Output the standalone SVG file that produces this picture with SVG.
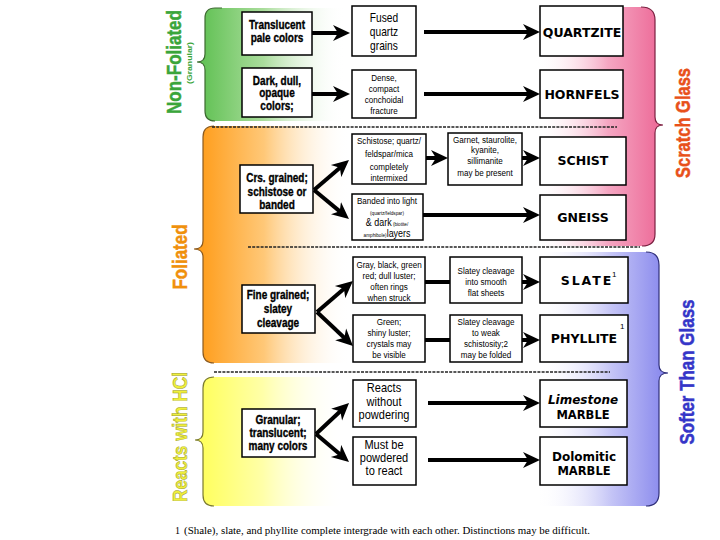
<svg xmlns="http://www.w3.org/2000/svg" width="720" height="540" viewBox="0 0 720 540">
<style>
.box{fill:#fff;stroke:#000;stroke-width:1.5}
.c1{font-family:"Liberation Sans",Arial,sans-serif;font-weight:bold;font-size:12.5px;text-anchor:middle;fill:#000;stroke:#000;stroke-width:0.35}
.c2{font-family:"Liberation Sans",Arial,sans-serif;font-size:9.5px;text-anchor:middle;fill:#000}
.big{font-size:12px}
.res{font-family:"DejaVu Sans",sans-serif;font-weight:bold;font-size:12.5px;text-anchor:middle;fill:#000}
.conn{stroke:#000;stroke-width:4;fill:none}
.arr{marker-end:url(#ah)}
.dot{stroke:#222;stroke-width:1.4;stroke-dasharray:3 1.2;fill:none}
.vl{font-family:"Liberation Sans",Arial,sans-serif;font-weight:bold;text-anchor:middle;font-size:21px;stroke-width:0.5}
.vs{font-family:"Liberation Sans",Arial,sans-serif;font-weight:bold;text-anchor:middle;font-size:8px;fill:#3aa53a}
.brace{fill:none;stroke-width:1.2}
.sup{font-family:"Liberation Sans",sans-serif;font-size:8px;fill:#000}
</style>
<defs>
<marker id="ah" markerUnits="userSpaceOnUse" markerWidth="18" markerHeight="18" viewBox="0 0 18 18" refX="9" refY="9" orient="auto">
<path d="M0,1 L17,9 L0,17 L5,9 Z" fill="#000"/>
</marker>
<linearGradient id="gGreen" x1="0" y1="0" x2="1" y2="0">
<stop offset="0" stop-color="#5cbf4f"/><stop offset="0.45" stop-color="#aadd9c"/><stop offset="1" stop-color="#ffffff" stop-opacity="0"/>
</linearGradient>
<linearGradient id="gOrange" x1="0" y1="0" x2="1" y2="0">
<stop offset="0" stop-color="#ff9912"/><stop offset="0.45" stop-color="#ffc878"/><stop offset="1" stop-color="#ffffff" stop-opacity="0"/>
</linearGradient>
<linearGradient id="gYellow" x1="0" y1="0" x2="1" y2="0">
<stop offset="0" stop-color="#ffff55"/><stop offset="0.45" stop-color="#ffffa8"/><stop offset="1" stop-color="#ffffff" stop-opacity="0"/>
</linearGradient>
<linearGradient id="gPink" x1="0" y1="0" x2="1" y2="0">
<stop offset="0" stop-color="#ffffff" stop-opacity="0"/><stop offset="0.3" stop-color="#ffffff" stop-opacity="0"/><stop offset="0.7" stop-color="#f5a6c2"/><stop offset="1" stop-color="#ec6695"/>
</linearGradient>
<linearGradient id="gBlue" x1="0" y1="0" x2="1" y2="0">
<stop offset="0" stop-color="#ffffff" stop-opacity="0"/><stop offset="0.3" stop-color="#ffffff" stop-opacity="0"/><stop offset="0.7" stop-color="#c4c4f6"/><stop offset="1" stop-color="#8484ec"/>
</linearGradient>
</defs>
<rect width="720" height="540" fill="#fff"/>

<g id="regions">
<path d="M480,7 L641,7 Q655,7 655,20 L655,117 Q655,125 663,125 Q655,125 655,133 L655,234 Q655,246 642,246 L480,246 Z" fill="url(#gPink)"/>
<path class="brace" stroke="#7a2040" d="M641,7 Q655,7 655,20 L655,117 Q655,125 663,125 Q655,125 655,133 L655,234 Q655,246 642,246"/>
<path d="M480,252 L646,252 Q659,252 659,265 L659,365 Q659,373 668,373 Q659,373 659,381 L659,493 Q659,506 646,506 L480,506 Z" fill="url(#gBlue)"/>
<path class="brace" stroke="#30307a" d="M646,252 Q659,252 659,265 L659,365 Q659,373 668,373 Q659,373 659,381 L659,493 Q659,506 646,506"/>
<path d="M197,62 Q205,62 205,54 L205,18 Q205,8 215,8 L345,8 L345,121 L215,121 Q205,121 205,111 L205,70 Q205,62 197,62 Z" fill="url(#gGreen)"/>
<path class="brace" stroke="#3c6a30" d="M222,8 L215,8 Q205,8 205,18 L205,54 Q205,62 197,62 Q205,62 205,70 L205,111 Q205,121 215,121"/>
<path d="M194,249 Q203,249 203,241 L203,137 Q203,126 214,126 L350,126 L350,363 L214,363 Q203,363 203,352 L203,257 Q203,249 194,249 Z" fill="url(#gOrange)"/>
<path class="brace" stroke="#8a5a20" d="M214,126 Q203,126 203,137 L203,241 Q203,249 194,249 Q203,249 203,257 L203,352 Q203,363 214,363"/>
<path d="M195,440 Q203,440 203,432 L203,388 Q203,377 214,377 L345,377 L345,506 L214,506 Q203,506 203,495 L203,448 Q203,440 195,440 Z" fill="url(#gYellow)"/>
<path class="brace" stroke="#7a7a30" d="M214,377 Q203,377 203,388 L203,432 Q203,440 195,440 Q203,440 203,448 L203,495 Q203,506 214,506"/>
<line class="dot" x1="212" y1="127" x2="617" y2="127"/>
<line class="dot" x1="248" y1="247" x2="640" y2="247"/>
<line class="dot" x1="214" y1="372" x2="610" y2="372"/>
</g>

<g id="side-labels">
<text class="vl" fill="#3aa53a" stroke="#3aa53a" transform="translate(181,62) rotate(-90) scale(0.81,1)">Non-Foliated</text>
<text class="vs" transform="translate(192,63) rotate(-90)" textLength="42" lengthAdjust="spacingAndGlyphs">(Granular)</text>
<text class="vl" fill="#f0900c" stroke="#f0900c" transform="translate(187,257) rotate(-90)" textLength="65" lengthAdjust="spacingAndGlyphs">Foliated</text>
<text class="vl" fill="#f0f03a" stroke="#9a9a30" transform="translate(187,437) rotate(-90)" textLength="130" lengthAdjust="spacingAndGlyphs">Reacts with HCl</text>
<text class="vl" fill="#e8501a" stroke="#e8501a" transform="translate(690,123) rotate(-90)" textLength="110" lengthAdjust="spacingAndGlyphs">Scratch Glass</text>
<text class="vl" fill="#3535c8" stroke="#3535c8" transform="translate(694,372) rotate(-90)" textLength="145" lengthAdjust="spacingAndGlyphs">Softer Than Glass</text>
</g>

<g id="connectors">
<line class="conn arr" x1="312" y1="33" x2="342" y2="33"/>
<line class="conn arr" x1="312" y1="94" x2="342" y2="94"/>
<line class="conn arr" x1="424" y1="32" x2="532" y2="32"/>
<line class="conn arr" x1="424" y1="94" x2="532" y2="94"/>
<line class="conn arr" x1="314" y1="190" x2="342.9" y2="165.2"/>
<line class="conn arr" x1="314" y1="190" x2="342.8" y2="213.9"/>
<line class="conn arr" x1="426" y1="158" x2="440" y2="158"/>
<line class="conn arr" x1="522" y1="158" x2="532" y2="158"/>
<line class="conn arr" x1="423" y1="215" x2="532" y2="215"/>
<line class="conn arr" x1="317" y1="312" x2="346.9" y2="286.2"/>
<line class="conn arr" x1="317" y1="312" x2="347.2" y2="340.5"/>
<line class="conn" x1="425" y1="282" x2="450" y2="282"/>
<line class="conn arr" x1="522" y1="282" x2="532" y2="282"/>
<line class="conn" x1="425" y1="340" x2="450" y2="340"/>
<line class="conn arr" x1="522" y1="340" x2="532" y2="340"/>
<line class="conn arr" x1="316" y1="434" x2="343.2" y2="408.5"/>
<line class="conn arr" x1="316" y1="434" x2="342.9" y2="456.8"/>
<line class="conn arr" x1="428" y1="403" x2="532" y2="403"/>
<line class="conn arr" x1="428" y1="460" x2="532" y2="460"/>
</g>

<g id="translucent">
<rect class="box" x="242" y="12" width="70" height="43"/>
<g transform="translate(277,0) scale(0.8,1)">
<text class="c1" x="0" y="29">Translucent</text>
<text class="c1" x="0" y="42">pale colors</text>
</g>
</g>
<g id="dark">
<rect class="box" x="242" y="68" width="70" height="49"/>
<g transform="translate(277,0) scale(0.8,1)">
<text class="c1" x="0" y="85">Dark, dull,</text>
<text class="c1" x="0" y="97">opaque</text>
<text class="c1" x="0" y="110">colors;</text>
</g>
</g>
<g id="coarse">
<rect class="box" x="240" y="165" width="73" height="48"/>
<g transform="translate(277,0) scale(0.8,1)">
<text class="c1" x="0" y="182">Crs. grained;</text>
<text class="c1" x="0" y="196">schistose or</text>
<text class="c1" x="0" y="209">banded</text>
</g>
</g>
<g id="fine">
<rect class="box" x="242" y="285" width="73" height="48"/>
<g transform="translate(278,0) scale(0.8,1)">
<text class="c1" x="0" y="299">Fine grained;</text>
<text class="c1" x="0" y="313">slatey</text>
<text class="c1" x="0" y="327">cleavage</text>
</g>
</g>
<g id="granular">
<rect class="box" x="242" y="409" width="73" height="48"/>
<g transform="translate(278,0) scale(0.8,1)">
<text class="c1" x="0" y="424">Granular;</text>
<text class="c1" x="0" y="437">translucent;</text>
<text class="c1" x="0" y="450">many colors</text>
</g>
</g>

<g id="fused">
<rect class="box" x="352" y="6" width="64" height="50"/>
<g transform="translate(384,0) scale(0.85,1)">
<text class="c2 big" x="0" y="22">Fused</text>
<text class="c2 big" x="0" y="36">quartz</text>
<text class="c2 big" x="0" y="50">grains</text>
</g>
</g>
<g id="dense">
<rect class="box" x="352" y="70" width="64" height="48"/>
<g transform="translate(384,0) scale(0.85,1)">
<text class="c2" x="0" y="81">Dense,</text>
<text class="c2" x="0" y="92">compact</text>
<text class="c2" x="0" y="103">conchoidal</text>
<text class="c2" x="0" y="114">fracture</text>
</g>
</g>
<g id="schistose">
<rect class="box" x="352" y="134" width="74" height="50"/>
<g transform="translate(389,0) scale(0.85,1)">
<text class="c2" x="0" y="144">Schistose; quartz/</text>
<text class="c2" x="0" y="157">feldspar/mica</text>
<text class="c2" x="0" y="170">completely</text>
<text class="c2" x="0" y="181">intermixed</text>
</g>
</g>
<g id="garnet">
<rect class="box" x="448" y="133" width="74" height="52"/>
<g transform="translate(485,0) scale(0.85,1)">
<text class="c2" x="0" y="143">Garnet, staurolite,</text>
<text class="c2" x="0" y="153">kyanite,</text>
<text class="c2" x="0" y="164">sillimanite</text>
<text class="c2" x="0" y="176">may be present</text>
</g>
</g>
<g id="banded">
<rect class="box" x="352" y="194" width="71" height="46"/>
<g transform="translate(387,0) scale(0.85,1)">
<text class="c2" x="0" y="204">Banded into light</text>
<text class="c2" x="0" y="215" style="font-size:5.5px">(quartz/feldspar)</text>
<text class="c2" x="0" y="226"><tspan style="font-size:10.5px">&amp; dark</tspan><tspan style="font-size:5.5px"> (biotite/</tspan></text>
<text class="c2" x="0" y="237"><tspan style="font-size:5.5px">amphibole)</tspan><tspan style="font-size:10.5px">layers</tspan></text>
</g>
</g>
<g id="gray">
<rect class="box" x="353" y="257" width="72" height="46"/>
<g transform="translate(389,0) scale(0.85,1)">
<text class="c2" x="0" y="268">Gray, black, green</text>
<text class="c2" x="0" y="279">red; dull luster;</text>
<text class="c2" x="0" y="290">often rings</text>
<text class="c2" x="0" y="301">when struck</text>
</g>
</g>
<g id="slatey1">
<rect class="box" x="450" y="257" width="72" height="46"/>
<g transform="translate(486,0) scale(0.85,1)">
<text class="c2" x="0" y="274">Slatey cleavage</text>
<text class="c2" x="0" y="285">into smooth</text>
<text class="c2" x="0" y="296">flat sheets</text>
</g>
</g>
<g id="green">
<rect class="box" x="353" y="315" width="72" height="47"/>
<g transform="translate(389,0) scale(0.85,1)">
<text class="c2" x="0" y="325">Green;</text>
<text class="c2" x="0" y="336">shiny luster;</text>
<text class="c2" x="0" y="347">crystals may</text>
<text class="c2" x="0" y="358">be visible</text>
</g>
</g>
<g id="slatey2">
<rect class="box" x="450" y="315" width="72" height="47"/>
<g transform="translate(486,0) scale(0.85,1)">
<text class="c2" x="0" y="325">Slatey cleavage</text>
<text class="c2" x="0" y="336">to weak</text>
<text class="c2" x="0" y="347">schistosity;2</text>
<text class="c2" x="0" y="358">may be folded</text>
</g>
</g>
<g id="reacts">
<rect class="box" x="353" y="380" width="63" height="47"/>
<g transform="translate(384,0) scale(0.92,1)">
<text class="c2 big" x="0" y="392">Reacts</text>
<text class="c2 big" x="0" y="406">without</text>
<text class="c2 big" x="0" y="419">powdering</text>
</g>
</g>
<g id="must">
<rect class="box" x="353" y="437" width="63" height="48"/>
<g transform="translate(384,0) scale(0.92,1)">
<text class="c2 big" x="0" y="449">Must be</text>
<text class="c2 big" x="0" y="462">powdered</text>
<text class="c2 big" x="0" y="475">to react</text>
</g>
</g>

<g id="quartzite">
<rect class="box" x="540" y="6" width="83" height="50"/>
<text class="res" x="582" y="36.5">QUARTZITE</text>
</g>
<g id="hornfels">
<rect class="box" x="540" y="70" width="83" height="48"/>
<text class="res" x="582" y="98.5">HORNFELS</text>
</g>
<g id="schist">
<rect class="box" x="540" y="137" width="86" height="48"/>
<text class="res" x="583" y="165">SCHIST</text>
</g>
<g id="gneiss">
<rect class="box" x="540" y="195" width="86" height="45"/>
<text class="res" x="583" y="222">GNEISS</text>
</g>
<g id="slate">
<rect class="box" x="540" y="257" width="88" height="46"/>
<text class="res" x="587" y="285" letter-spacing="2">SLATE</text>
<text class="sup" x="612" y="277">1</text>
</g>
<g id="phyllite">
<rect class="box" x="540" y="315" width="88" height="47"/>
<text class="res" x="584" y="343">PHYLLITE</text>
<text class="sup" x="620" y="329">1</text>
</g>
<g id="limestone">
<rect class="box" x="540" y="380" width="87" height="47"/>
<text class="res" x="583" y="404" style="font-size:12px;font-style:italic">Limestone</text>
<text class="res" x="583" y="419" style="font-size:11.5px">MARBLE</text>
</g>
<g id="dolomitic">
<rect class="box" x="540" y="437" width="87" height="48"/>
<text class="res" x="584" y="461" style="font-size:12px">Dolomitic</text>
<text class="res" x="584" y="475" style="font-size:11.5px">MARBLE</text>
</g>

<g id="footnote">
<text x="175" y="534" font-family="Liberation Serif,serif" font-size="10" fill="#000">1</text>
<text x="184" y="534" font-family="Liberation Serif,serif" font-size="10" fill="#000" textLength="406" lengthAdjust="spacingAndGlyphs">(Shale), slate, and phyllite complete intergrade with each other.  Distinctions may be difficult.</text>
</g>
</svg>
